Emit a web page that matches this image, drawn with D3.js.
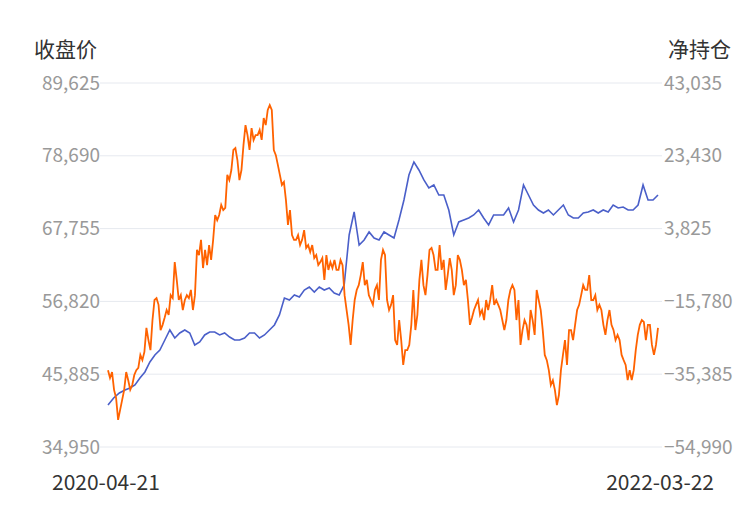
<!DOCTYPE html>
<html><head><meta charset="utf-8">
<script src="https://cdn.jsdelivr.net/npm/d3@7"></script>
<style>body{margin:0;background:#fff}</style>
</head><body><div id="chart"></div>
<script>
const dateLabels = ["2020-04-21", "2022-03-22"];
const leftTicks = [34950, 45885, 56820, 67755, 78690, 89625];
const rightTicks = [-54990, -35385, -15780, 3825, 23430, 43035];
const closePrice = [41260,42310,43060,43510,43810,44270,45320,46220,47720,48770,49520,51020,52530,51320,52080,52530,52080,50270,50720,51780,52230,52230,51780,52080,51470,51020,51020,51320,52080,52080,51320,51780,52530,53280,54780,57330,57030,57780,57480,58530,58980,58230,58980,58530,58830,58080,57780,59290,66800,70250,65290,66040,67250,66340,66040,67250,66800,66340,69050,72050,75810,77760,76560,75060,73850,74310,72800,72800,70550,66800,68750,69050,69350,69800,70550,69350,68300,69800,69800,69800,70850,68750,70550,74310,72800,71300,70550,70100,70550,69800,70550,71300,69800,69350,69350,70100,70250,70550,70100,70550,70250,71300,70850,71000,70550,70550,71300,74310,72050,72050,72800];
const netPosition = [-34300,-36400,-34800,-39600,-41800,-47700,-45000,-42300,-39600,-34800,-37000,-39600,-38300,-35600,-34300,-33700,-30200,-31600,-29400,-22900,-26200,-28900,-20800,-15400,-14900,-16700,-23500,-22100,-20200,-18100,-19400,-14100,-14900,-5200,-10000,-15400,-14100,-18100,-15400,-14100,-14900,-12700,-18100,-14100,-1900,-3300,800,-6800,-1900,-6000,-600,-4600,800,7500,6100,7500,10200,8800,9400,18300,16900,19600,25000,25500,22300,16900,19600,26300,31700,29000,25000,30900,27700,29000,29000,30400,27700,33600,31700,35800,37100,35800,25000,23600,21000,18300,15600,16400,11500,4800,8800,2100,800,800,2100,-600,800,3400,-1400,-600,-2500,-600,-4100,-3300,-6000,-5200,-4100,-10000,-3300,-7300,-5200,-6800,-4600,-7300,-7300,-4600,-6000,-14100,-18100,-22100,-27500,-20800,-15400,-12700,-11400,-8700,-5200,-11400,-10000,-14100,-15400,-16700,-12700,-11400,-15400,-4600,-1900,-3300,-15400,-18100,-16700,-14100,-26200,-27500,-20800,-26200,-32900,-28900,-28900,-27500,-22100,-12700,-23500,-19400,-10000,-4600,-11400,-14100,-8700,-1900,-1400,-3300,-7300,-7300,-600,-7300,-4600,-12700,-8700,-4100,-7300,-14100,-11400,-3300,-4600,-7300,-11400,-10000,-15400,-22100,-20200,-18100,-16700,-15400,-19400,-18100,-20800,-15400,-18100,-15400,-11400,-16700,-15400,-16700,-18100,-20800,-23500,-20800,-15400,-12700,-11400,-12700,-20800,-15400,-27500,-23500,-20800,-22100,-26200,-18100,-20800,-24800,-12700,-15400,-18100,-23500,-30200,-31600,-34300,-38300,-37000,-39600,-43700,-41000,-34300,-30200,-26200,-32900,-23500,-23500,-26200,-22100,-18100,-16700,-14100,-11400,-12700,-12700,-8700,-15400,-15400,-14100,-18100,-16700,-18100,-22100,-24800,-20800,-18100,-22100,-23500,-26200,-24800,-26200,-30200,-31600,-32900,-37000,-34300,-37000,-34300,-28900,-24800,-22100,-20800,-21300,-26200,-22100,-22100,-27500,-30200,-27500,-22900];

const W = 750, H = 510, x0 = 108, x1 = 658, yTop = 83, yBot = 447;
const font = "'Noto Sans CJK SC', 'Noto Sans', sans-serif";
const svg = d3.select("#chart").append("svg").attr("width", W).attr("height", H);

const yL = d3.scaleLinear().domain([34950, 89625]).range([yBot, yTop]);
const yR = d3.scaleLinear().domain([-54990, 43035]).range([yBot, yTop]);
// blue series was read with tighter spacing at the start, so warp its index slightly
const xB = d3.scaleLinear().domain([0, 3, closePrice.length - 1]).range([x0, 125, x1]);
const xO = d3.scaleLinear().domain([0, netPosition.length - 1]).range([x0, x1]);
const fmt = d3.format(",");

// grid
svg.append("g").selectAll("line").data(leftTicks).join("line")
    .attr("x1", 100).attr("x2", 662)
    .attr("y1", d => yL(d)).attr("y2", d => yL(d))
    .attr("stroke", "#e6e9ef").attr("stroke-width", 1);

const axL = svg.append("g").attr("transform", `translate(100,0)`)
    .call(d3.axisLeft(yL).tickValues(leftTicks).tickFormat(fmt).tickSize(0).tickPadding(0));
const axR = svg.append("g").attr("transform", `translate(664,0)`)
    .call(d3.axisRight(yR).tickValues(rightTicks).tickFormat(fmt).tickSize(0).tickPadding(0));
[axL, axR].forEach(a => {
    a.select(".domain").remove();
    a.selectAll("text").attr("fill", "#999").style("font-size", "19px").style("font-family", font);
});

svg.append("text").attr("x", 34).attr("y", 57).text("收盘价")
    .attr("fill", "#333").style("font-size", "21px").style("font-family", font);
svg.append("text").attr("x", 731).attr("y", 57).attr("text-anchor", "end").text("净持仓")
    .attr("fill", "#333").style("font-size", "21px").style("font-family", font);

svg.append("text").attr("x", 52).attr("y", 490).text(dateLabels[0])
    .attr("fill", "#333").style("font-size", "21px").style("font-family", font);
svg.append("text").attr("x", 714).attr("y", 490).attr("text-anchor", "end").text(dateLabels[1])
    .attr("fill", "#333").style("font-size", "21px").style("font-family", font);

svg.append("path").datum(closePrice)
    .attr("d", d3.line().x((d, i) => xB(i)).y(d => yL(d)))
    .attr("fill", "none").attr("stroke", "#4a5fc9").attr("stroke-width", 1.6);
svg.append("path").datum(netPosition)
    .attr("d", d3.line().x((d, i) => xO(i)).y(d => yR(d)))
    .attr("fill", "none").attr("stroke", "#ff6200").attr("stroke-width", 1.8);
</script></body></html>
